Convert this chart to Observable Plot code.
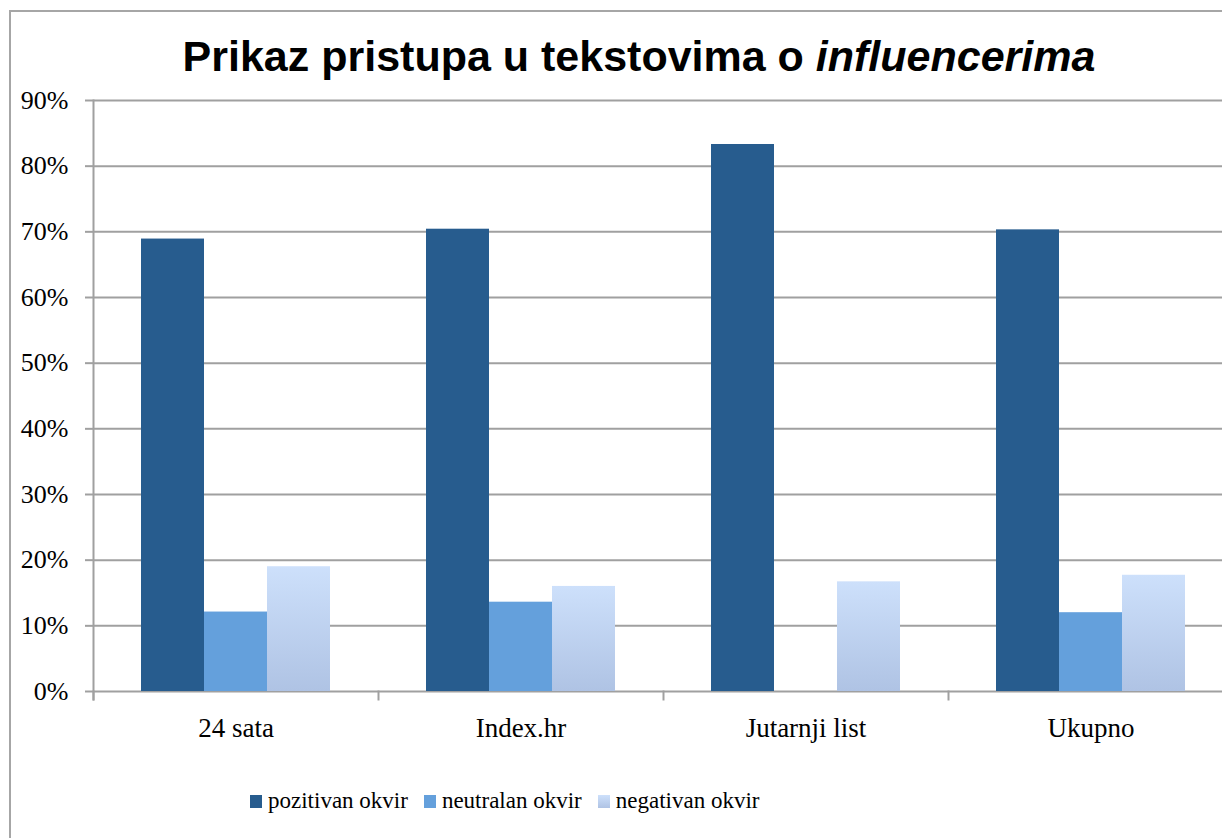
<!DOCTYPE html>
<html>
<head>
<meta charset="utf-8">
<script src="https://cdn.jsdelivr.net/npm/d3@7"></script>
<script src="https://cdn.jsdelivr.net/npm/@observablehq/plot@0.6"></script>
<style>
  html, body { margin: 0; padding: 0; background: #fff; overflow: hidden; width: 1222px; height: 838px; }
  #frame { position: absolute; left: 9px; top: 10px; width: 1300px; height: 900px; border: 2px solid #a6a6a6; box-sizing: border-box; }
  #title { position: absolute; left: 0; top: 31px; width: 1278px; text-align: center; font-family: "Liberation Sans", Arial, sans-serif; font-weight: bold; font-size: 43px; line-height: 50px; color: #000; white-space: nowrap; }
  #chart { position: absolute; left: 0; top: 80px; width: 1270px; }
  #chart svg { max-width: none !important; }
  #legend { position: absolute; left: 250px; top: 788px; display: flex; align-items: center; font-family: "Liberation Serif", "Times New Roman", serif; font-size: 23px; color: #000; white-space: nowrap; }
  .item { display: flex; align-items: center; margin-right: 16px; }
  .sw { width: 12px; height: 13px; margin-right: 6px; }
</style>
</head>
<body>
<div id="frame"></div>
<div id="title">Prikaz pristupa u tekstovima o <i>influencerima</i></div>
<div id="chart"></div>
<div id="legend"></div>
<script>
// ---- data ----
const categories = ["24 sata", "Index.hr", "Jutarnji list", "Ukupno"];
const seriesNames = ["pozitivan okvir", "neutralan okvir", "negativan okvir"];
const pozitivan = [68.9, 70.4, 83.3, 70.3];
const neutralan = [12.1, 13.6, 0, 12.0];
const negativan = [19.0, 16.0, 16.7, 17.7];
const yTicks = [0, 10, 20, 30, 40, 50, 60, 70, 80, 90];

// ---- styles ----
const seriesColors = ["#275c8e", "#64a0dc", "url(#negGrad)"];
const gridColor = "#a0a0a0";
const serif = "'Liberation Serif', 'Times New Roman', serif";
const innerH = 591;

const valuesBySeries = [pozitivan, neutralan, negativan];
const rows = [];
categories.forEach((c, i) => {
  seriesNames.forEach((s, j) => rows.push({category: c, series: s, value: valuesBySeries[j][i]}));
});

function defs() {
  const ns = "http://www.w3.org/2000/svg";
  const d = document.createElementNS(ns, "defs");
  d.innerHTML = `
    <linearGradient id="negGrad" x1="0" y1="0" x2="0" y2="1">
      <stop offset="0" stop-color="#cde0fb"/>
      <stop offset="1" stop-color="#afc3e4"/>
    </linearGradient>
    <filter id="shadow" x="-20%" y="-5%" width="140%" height="110%">
      <feDropShadow dx="1.5" dy="1.5" stdDeviation="1.8" flood-color="#000" flood-opacity="0.28"/>
    </filter>`;
  return d;
}

const chart = Plot.plot({
  width: 1270,
  height: 20 + innerH + 60,
  marginTop: 20,
  marginBottom: 60,
  marginLeft: 92,
  marginRight: 36,
  style: {background: "transparent", overflow: "visible", maxWidth: "none"},
  fx: {domain: categories, padding: 0, axis: null},
  x: {domain: seriesNames, paddingInner: 0, paddingOuter: 0.75, axis: null},
  y: {domain: [0, 90], axis: null},
  color: {domain: seriesNames, range: seriesColors},
  marks: [
    defs,
    Plot.ruleY(yTicks, {stroke: gridColor, strokeWidth: 2}),
    Plot.frame({anchor: "left", facetAnchor: "left", stroke: gridColor, strokeWidth: 2, insetBottom: -8}),
    Plot.frame({anchor: "left", stroke: gridColor, strokeWidth: 2, insetTop: innerH, insetBottom: -8}),
    Plot.barY(rows, {fx: "category", x: "series", y: "value", fill: "series", filter: d => d.value > 0, style: "filter:url(#shadow)"}),
    Plot.axisY({ticks: yTicks, tickFormat: d => d + "%", tickSize: 8, tickPadding: 17, stroke: gridColor, strokeWidth: 2, fill: "#000", fontSize: 26, fontFamily: serif, label: null}),
    Plot.axisFx({anchor: "bottom", tickSize: 0, tickPadding: 26, fill: "#000", fontSize: 27, fontFamily: serif, label: null})
  ]
});
document.getElementById("chart").appendChild(chart);

// legend
const legend = document.getElementById("legend");
const swatchBg = ["#275c8e", "#64a0dc", "linear-gradient(#cde0fb, #afc3e4)"];
seriesNames.forEach((s, j) => {
  const item = document.createElement("div");
  item.className = "item";
  const sw = document.createElement("div");
  sw.className = "sw";
  sw.style.background = swatchBg[j];
  const t = document.createElement("span");
  t.textContent = s;
  item.appendChild(sw);
  item.appendChild(t);
  legend.appendChild(item);
});
</script>
</body>
</html>
